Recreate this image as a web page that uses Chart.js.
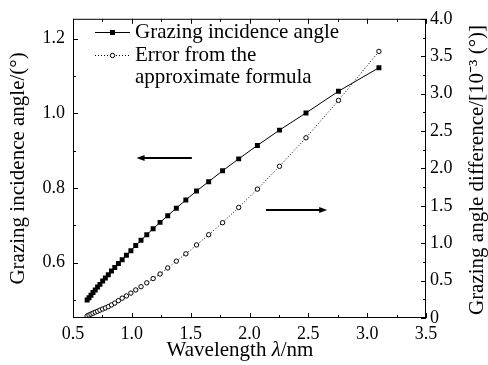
<!DOCTYPE html>
<html>
<head>
<meta charset="utf-8">
<style>
  html, body { margin: 0; padding: 0; background: #fff; }
  #wrap { width: 488px; height: 365px; }
</style>
<script src="https://cdn.jsdelivr.net/npm/chart.js@4.4.1/dist/chart.umd.min.js"></script>
</head>
<body>
<div id="wrap"><canvas id="chart" width="488" height="365"></canvas></div>
<script>
// wavelength (nm)
const wavelength = [0.620, 0.636, 0.653, 0.670, 0.689, 0.709, 0.729, 0.752, 0.775, 0.800,
                    0.827, 0.855, 0.886, 0.918, 0.954, 0.992, 1.033, 1.078, 1.127, 1.181,
                    1.240, 1.305, 1.378, 1.459, 1.550, 1.653, 1.771, 1.908, 2.067, 2.255,
                    2.480, 2.756, 3.100];
// grazing incidence angle (deg), left axis
const grazingAngle = [0.500, 0.506, 0.513, 0.520, 0.527, 0.535, 0.542, 0.551, 0.559, 0.568,
                      0.578, 0.587, 0.598, 0.608, 0.620, 0.632, 0.646, 0.660, 0.675, 0.691,
                      0.708, 0.726, 0.746, 0.768, 0.792, 0.817, 0.846, 0.878, 0.914, 0.955,
                      1.001, 1.059, 1.122];
// error from the approximate formula (1e-3 deg), right axis
const angleError = [0.028, 0.040, 0.052, 0.065, 0.078, 0.090, 0.105, 0.120, 0.135, 0.152,
                    0.175, 0.200, 0.232, 0.265, 0.295, 0.333, 0.375, 0.418, 0.470, 0.527,
                    0.588, 0.669, 0.760, 0.858, 0.977, 1.113, 1.274, 1.478, 1.723, 2.028,
                    2.409, 2.909, 3.564];

const xLabelTicks = [0.5, 1.0, 1.5, 2.0, 2.5, 3.0, 3.5];
const xMinorTicks = [0.75, 1.25, 1.75, 2.25, 2.75, 3.25];
const leftLabelTicks = [0.6, 0.8, 1.0, 1.2];
const leftMinorTicks = [0.5, 0.7, 0.9, 1.1];
const rightLabelTicks = [0, 0.5, 1.0, 1.5, 2.0, 2.5, 3.0, 3.5, 4.0];
const rightMinorTicks = [0.25, 0.75, 1.25, 1.75, 2.25, 2.75, 3.25, 3.75];

const seriesNames = ['Grazing incidence angle', ['Error from the', 'approximate formula']];
const rightTitle = 'Grazing angle difference/[10⁻³ (°)]';

const FONT = '"Liberation Serif", "Times New Roman", serif';
Chart.defaults.font.family = FONT;
Chart.defaults.font.size = 18;
Chart.defaults.color = '#000';

function toXY(xs, ys) {
  return xs.map((x, i) => ({ x: x, y: ys[i] }));
}

// frame, inward ticks, legend, titles and the two arrows
const decorations = {
  id: 'decorations',
  afterDraw(chart) {
    const ctx = chart.ctx;
    const a = chart.chartArea;
    const sx = chart.scales.x, sl = chart.scales.y, sr = chart.scales.y1;
    ctx.save();
    ctx.strokeStyle = '#000';
    ctx.fillStyle = '#000';
    ctx.lineWidth = 1;
    ctx.strokeRect(a.left + 0.5, a.top + 0.5, a.right - a.left - 1, a.bottom - a.top - 1);

    ctx.beginPath();
    const xt = (vals, len) => vals.forEach(v => {
      const p = Math.round(sx.getPixelForValue(v)) + 0.5;
      ctx.moveTo(p, a.bottom); ctx.lineTo(p, a.bottom - len);
      ctx.moveTo(p, a.top); ctx.lineTo(p, a.top + len);
    });
    xt(xLabelTicks, 5); xt(xMinorTicks, 3);
    const lt = (vals, len) => vals.forEach(v => {
      const p = Math.round(sl.getPixelForValue(v)) + 0.5;
      ctx.moveTo(a.left, p); ctx.lineTo(a.left + len, p);
    });
    lt(leftLabelTicks, 5); lt(leftMinorTicks, 3);
    const rt = (vals, len) => vals.forEach(v => {
      const p = Math.round(sr.getPixelForValue(v)) + 0.5;
      ctx.moveTo(a.right, p); ctx.lineTo(a.right - len, p);
    });
    rt(rightLabelTicks, 5); rt(rightMinorTicks, 3);
    ctx.stroke();

    // legend
    ctx.font = '21px ' + FONT;
    ctx.textBaseline = 'middle';
    ctx.textAlign = 'left';
    ctx.beginPath();
    ctx.moveTo(95, 32.5); ctx.lineTo(130, 32.5);
    ctx.stroke();
    ctx.fillRect(110, 30, 5, 5);
    ctx.fillText(seriesNames[0], 135, 32);
    ctx.setLineDash([1, 2]);
    ctx.beginPath();
    ctx.moveTo(95, 55.5); ctx.lineTo(130, 55.5);
    ctx.stroke();
    ctx.setLineDash([]);
    ctx.beginPath();
    ctx.arc(112.5, 55.5, 2.2, 0, Math.PI * 2);
    ctx.fillStyle = '#fff'; ctx.fill();
    ctx.fillStyle = '#000'; ctx.stroke();
    ctx.fillText(seriesNames[1][0], 135, 55);
    ctx.fillText(seriesNames[1][1], 135, 77);

    // x title with italic lambda
    const parts = [['Wavelength ', ''], ['λ', 'italic '], ['/nm', '']];
    let total = 0;
    parts.forEach(p => { ctx.font = p[1] + '21px ' + FONT; total += ctx.measureText(p[0]).width; });
    let tx = 240 - total / 2;
    parts.forEach(p => {
      ctx.font = p[1] + '21px ' + FONT;
      ctx.fillText(p[0], tx, 350);
      tx += ctx.measureText(p[0]).width;
    });

    // right title, read bottom to top
    ctx.save();
    ctx.font = '21px ' + FONT;
    ctx.textAlign = 'center';
    ctx.translate(477, 170);
    ctx.rotate(-Math.PI / 2);
    ctx.fillText(rightTitle, 0, 0);
    ctx.restore();

    // arrows pointing to each series' axis
    const arrow = (x1, x2, y) => {
      const dir = Math.sign(x2 - x1);
      ctx.lineWidth = 2;
      ctx.beginPath();
      ctx.moveTo(x1, y); ctx.lineTo(x2 - dir * 6, y);
      ctx.stroke();
      ctx.beginPath();
      ctx.moveTo(x2, y); ctx.lineTo(x2 - dir * 8, y - 3); ctx.lineTo(x2 - dir * 8, y + 3);
      ctx.closePath(); ctx.fill();
    };
    arrow(sx.getPixelForValue(1.51), sx.getPixelForValue(1.04), Math.round(sl.getPixelForValue(0.88)));
    arrow(sx.getPixelForValue(2.14), sx.getPixelForValue(2.66), Math.round(sr.getPixelForValue(1.45)));
    ctx.restore();
  }
};

new Chart(document.getElementById('chart').getContext('2d'), {
  type: 'line',
  data: {
    datasets: [{
      label: 'Grazing incidence angle',
      data: toXY(wavelength, grazingAngle),
      yAxisID: 'y',
      borderColor: '#000',
      borderWidth: 1,
      backgroundColor: '#000',
      pointStyle: 'rect',
      pointRadius: 3.5,
      pointBorderWidth: 0,
      tension: 0
    }, {
      label: 'Error from the approximate formula',
      data: toXY(wavelength, angleError),
      yAxisID: 'y1',
      borderColor: '#000',
      borderWidth: 1,
      borderDash: [1, 2],
      backgroundColor: '#fff',
      pointStyle: 'circle',
      pointRadius: 2.2,
      pointBorderWidth: 1,
      tension: 0
    }]
  },
  options: {
    responsive: false,
    animation: false,
    devicePixelRatio: 1,
    layout: { padding: { top: 9, left: 0, right: 0, bottom: 0 } },
    plugins: { legend: { display: false }, tooltip: { enabled: false } },
    scales: {
      x: {
        type: 'linear',
        min: 0.5, max: 3.5,
        grid: { display: false, drawTicks: false },
        border: { display: false },
        afterBuildTicks: s => { s.ticks = xLabelTicks.map(v => ({ value: v })); },
        afterFit: s => { s.height = 47; },
        ticks: { padding: 5, callback: v => v.toFixed(1) }
      },
      y: {
        position: 'left',
        min: 0.452, max: 1.253,
        grid: { display: false, drawTicks: false },
        border: { display: false },
        afterBuildTicks: s => { s.ticks = leftLabelTicks.map(v => ({ value: v })); },
        afterFit: s => { s.width = 73; },
        ticks: { padding: 8, callback: v => v.toFixed(1) },
        title: { display: true, text: 'Grazing incidence angle/(°)', font: { size: 21 }, padding: { top: 6, bottom: 0 } }
      },
      y1: {
        position: 'right',
        min: 0, max: 4,
        grid: { display: false, drawTicks: false },
        border: { display: false },
        afterBuildTicks: s => { s.ticks = rightLabelTicks.map(v => ({ value: v })); },
        afterFit: s => { s.width = 62; },
        ticks: { padding: 4, callback: v => (v === 0 ? '0' : v.toFixed(1)) }
      }
    }
  },
  plugins: [decorations]
});
</script>
</body>
</html>
